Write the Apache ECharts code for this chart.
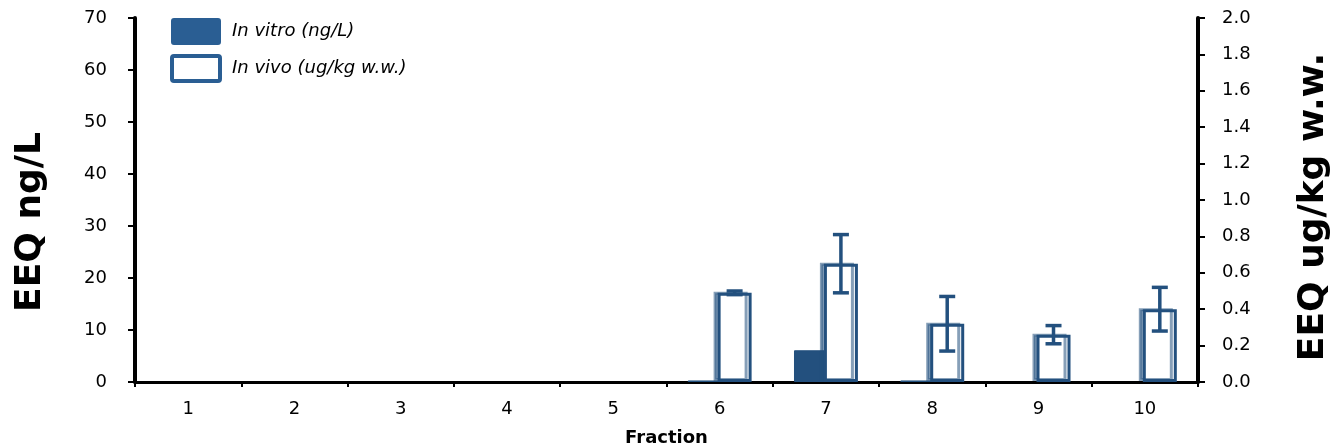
<!DOCTYPE html>
<html><head><meta charset="utf-8">
<script src="https://cdn.jsdelivr.net/npm/echarts@6/dist/echarts.min.js"></script>
<style>html,body{margin:0;padding:0;background:#fff}#c{width:1339px;height:447px}</style>
</head><body><div id="c"></div>
<script>
const fractions = ['1','2','3','4','5','6','7','8','9','10'];
const inVitro = [0, 0, 0, 0, 0, 0.3, 6.1, 0.3, 0, 0];          // ng/L (left axis)
const inVivo = [0, 0, 0, 0, 0, 0.49, 0.65, 0.32, 0.26, 0.40];   // ug/kg w.w. (right axis)
const inVivoErr = [0, 0, 0, 0, 0, 0.01, 0.16, 0.15, 0.05, 0.12];
const leftTicks = {min: 0, max: 70, interval: 10};
const rightTicks = {min: 0, max: 2, interval: 0.2};

const BLUE = '#23507e';
const FONT = '"DejaVu Sans", "Liberation Sans", Arial, sans-serif';
const BAR_W = 34, GAP = -0.12;
const offset = BAR_W * (1 + GAP) / 2;
const nz = v => (v === 0 ? '-' : v);

const chart = echarts.init(document.getElementById('c'));
chart.setOption({
  animation: false,
  grid: {left: 135, right: 141, top: 18, bottom: 65, outerBoundsMode: 'none', containLabel: false},
  legend: {
    orient: 'vertical', left: 170, top: 18, padding: 0, itemWidth: 48, itemHeight: 25, itemGap: 9,
    textStyle: {fontFamily: FONT, fontStyle: 'italic', fontSize: 18, color: '#000', padding: [0,0,0,7]},
    data: [
      {name: 'In vitro (ng/L)', icon: 'path://M2,0 L46,0 Q48,0 48,2 L48,23 Q48,25 46,25 L2,25 Q0,25 0,23 L0,2 Q0,0 2,0 Z',
       itemStyle: {color: '#2a5e93', borderColor: '#2a5e93'}},
      {name: 'In vivo (ug/kg w.w.)', icon: 'path://M2,0 L46,0 Q48,0 48,2 L48,23 Q48,25 46,25 L2,25 Q0,25 0,23 L0,2 Q0,0 2,0 Z',
       itemStyle: {color: '#fff', borderColor: '#2a5e93', borderWidth: 4, shadowColor: 'transparent'}}
    ]
  },
  xAxis: {
    type: 'category', data: fractions,
    name: 'Fraction', nameLocation: 'middle', nameGap: 47,
    nameTextStyle: {fontFamily: FONT, fontWeight: 'bold', fontSize: 18, color: '#000'},
    axisLine: {lineStyle: {color: '#000', width: 3}},
    axisTick: {show: true, length: 5, lineStyle: {color: '#000', width: 2}},
    axisLabel: {fontFamily: FONT, fontSize: 18, color: '#000', margin: 18}
  },
  yAxis: [{
    type: 'value', min: leftTicks.min, max: leftTicks.max, interval: leftTicks.interval,
    name: 'EEQ ng/L', nameLocation: 'middle', nameGap: 86, nameRotate: 90,
    nameTextStyle: {fontFamily: FONT, fontWeight: 'bold', fontSize: 36, color: '#000', padding: [0, 44, 0, 0]},
    axisLine: {show: true, lineStyle: {color: '#000', width: 4}},
    axisTick: {show: true, length: 7, lineStyle: {color: '#000', width: 2}},
    axisLabel: {fontFamily: FONT, fontSize: 18, color: '#000', margin: 28},
    splitLine: {show: false}
  }, {
    type: 'value', min: rightTicks.min, max: rightTicks.max, interval: rightTicks.interval,
    position: 'right',
    name: 'EEQ ug/kg w.w.', nameLocation: 'middle', nameGap: 98, nameRotate: 90,
    nameTextStyle: {fontFamily: FONT, fontWeight: 'bold', fontSize: 36, color: '#000', padding: [0, 14, 0, 0]},
    axisLine: {show: true, lineStyle: {color: '#000', width: 4}},
    axisTick: {show: true, length: 7, lineStyle: {color: '#000', width: 2}},
    axisLabel: {fontFamily: FONT, fontSize: 18, color: '#000', margin: 24,
      formatter: v => v.toFixed(1)},
    splitLine: {show: false}
  }],
  series: [{
    name: 'In vitro (ng/L)', type: 'bar', yAxisIndex: 0, data: inVitro.map(nz),
    barWidth: BAR_W, barGap: (GAP * 100) + '%',
    itemStyle: {color: BLUE, borderColor: BLUE, borderWidth: 1}
  }, {
    name: 'In vivo (ug/kg w.w.)', type: 'bar', yAxisIndex: 1, data: inVivo.map(nz),
    barWidth: BAR_W,
    itemStyle: {color: '#fff', borderColor: BLUE, borderWidth: 3,
      shadowColor: 'rgba(35,80,126,0.55)', shadowOffsetX: -4, shadowOffsetY: -1, shadowBlur: 0}
  }, {
    type: 'custom', yAxisIndex: 1, silent: true, z: 5,
    data: fractions.map((f, i) => [i, inVivo[i] - inVivoErr[i], inVivo[i] + inVivoErr[i], inVivoErr[i]]),
    renderItem: function (params, api) {
      if (api.value(3) <= 0) return;
      const lo = api.coord([api.value(0), api.value(1)]);
      const hi = api.coord([api.value(0), api.value(2)]);
      const x = lo[0] + offset, cap = 8;
      const st = {stroke: BLUE, lineWidth: 3.5};
      return {type: 'group', children: [
        {type: 'line', shape: {x1: x, y1: lo[1], x2: x, y2: hi[1]}, style: st},
        {type: 'line', shape: {x1: x - cap, y1: lo[1], x2: x + cap, y2: lo[1]}, style: st},
        {type: 'line', shape: {x1: x - cap, y1: hi[1], x2: x + cap, y2: hi[1]}, style: st}
      ]};
    }
  }]
});
</script></body></html>
